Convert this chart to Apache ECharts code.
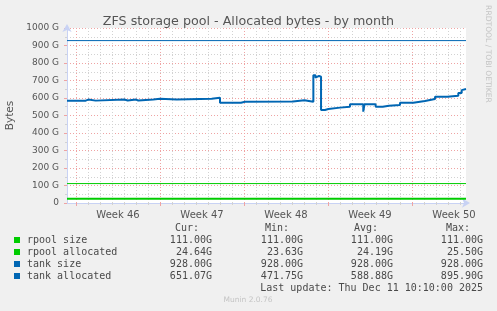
<!DOCTYPE html>
<html><head><meta charset="utf-8">
<script src="https://cdn.jsdelivr.net/npm/echarts@6/dist/echarts.min.js"></script>
<style>html,body{margin:0;padding:0;background:#f0f0f0}#c{width:497px;height:311px}</style>
</head><body><div id="c"></div>
<script>
// x values are days relative to the Monday starting "Week 46"
const weekStarts = [0, 7, 14, 21, 28];
const weekLabelPos = [3.5, 10.5, 17.5, 24.5, 31.5];
const weekLabels = ['Week 46', 'Week 47', 'Week 48', 'Week 49', 'Week 50'];
const yTicks = [0, 100, 200, 300, 400, 500, 600, 700, 800, 900, 1000];

const rpoolSizeDays = [-0.75, 32.5];
const rpoolSizeVals = [111, 111];
const rpoolAllocDays = [-0.75, 5, 12, 20, 27, 32.5];
const rpoolAllocVals = [23.8, 24.0, 24.2, 24.4, 24.6, 24.64];
const tankSizeDays = [-0.75, 32.5];
const tankSizeVals = [928, 928];
const tankAllocDays = [-0.75, 0.81, 1.03, 1.64, 4.03, 4.31, 5.0, 5.19, 6.44, 7.0, 8.39, 11.31, 12.0, 13.75, 14.08, 18.08, 19.03, 19.78, 19.96, 20.08, 20.25, 20.42, 20.75, 21.03, 22.0, 22.83, 23.94, 24.04, 24.97, 25.56, 26.08, 27.0, 28.11, 29.08, 29.92, 30.94, 31.86, 32.14, 32.3, 32.5];
const tankAllocVals = [585, 591, 585, 591, 586, 591, 586, 591, 596, 591, 596, 602, 573, 578, 580, 587, 578, 730, 716, 726, 722, 531, 537, 545, 550, 564, 522, 564, 550, 556, 560, 573, 583, 594, 607, 613, 628, 645, 651, 651];

const legendNames = ['rpool size', 'rpool allocated', 'tank size', 'tank allocated'];
const legendColors = ['#00cc00', '#00cc00', '#0066b3', '#0066b3'];
const curVals = ['111.00G', '24.64G', '928.00G', '651.07G'];
const minVals = ['111.00G', '23.63G', '928.00G', '471.75G'];
const avgVals = ['111.00G', '24.19G', '928.00G', '588.88G'];
const maxVals = ['111.00G', '25.50G', '928.00G', '895.90G'];
const lastUpdate = 'Last update: Thu Dec 11 10:10:00 2025';

function pairs(d, v) { return d.map((x, i) => [x, v[i]]); }
const dailyDays = [];
for (let d = 1; d <= 32; d++) if (d % 7 !== 0) dailyDays.push(d);

const mono = '"DejaVu Sans Mono", monospace';
const txtColor = '#4a4a4a';
const graphics = [];
const rowY = [240, 252, 264, 276];
legendNames.forEach((n, i) => {
  graphics.push({type: 'rect', shape: {x: 14, y: rowY[i] - 3, width: 6, height: 6}, style: {fill: legendColors[i]}});
  graphics.push({type: 'text', x: 27, y: rowY[i], style: {text: n, font: '10px ' + mono, fill: txtColor, textVerticalAlign: 'middle'}});
  [[curVals, 212], [minVals, 303], [avgVals, 393], [maxVals, 483]].forEach(([arr, xr]) => {
    graphics.push({type: 'text', x: xr, y: rowY[i], style: {text: arr[i], font: '10px ' + mono, fill: txtColor, textAlign: 'right', textVerticalAlign: 'middle'}});
  });
});
[['Cur:', 199], ['Min:', 289], ['Avg:', 378], ['Max:', 470]].forEach(([t, xr]) => {
  graphics.push({type: 'text', x: xr, y: 228, style: {text: t, font: '10px ' + mono, fill: txtColor, textAlign: 'right', textVerticalAlign: 'middle'}});
});
graphics.push({type: 'text', x: 483, y: 288, style: {text: lastUpdate, font: '10px ' + mono, fill: txtColor, textAlign: 'right', textVerticalAlign: 'middle'}});
graphics.push({type: 'text', x: 248, y: 300, style: {text: 'Munin 2.0.76', font: '7.5px "DejaVu Sans"', fill: '#c4c4c4', textAlign: 'center', textVerticalAlign: 'middle'}});
graphics.push({type: 'text', x: 488, y: 54, rotation: -Math.PI / 2, style: {text: 'RRDTOOL / TOBI OETIKER', font: '7.6px "DejaVu Sans"', fill: '#c4c4c4', textAlign: 'center', textVerticalAlign: 'middle'}});

const chart = echarts.init(document.getElementById('c'), null, {renderer: 'canvas'});
const axisCol = '#c8d2f4';
const majorCol = '#efa3a3';
const minorCol = '#d2d2d2';
chart.setOption({
  animation: false,
  backgroundColor: '#f0f0f0',
  textStyle: {fontFamily: '"DejaVu Sans", sans-serif'},
  title: {text: 'ZFS storage pool - Allocated bytes - by month', left: 'center', top: 10,
    textStyle: {fontSize: 12.7, fontWeight: 'normal', color: '#555', fontFamily: '"DejaVu Sans", sans-serif'}},
  grid: {left: 67, right: 31, top: 28, height: 175, show: true, backgroundColor: '#ffffff', borderWidth: 0, containLabel: false, outerBoundsMode: 'none'},
  xAxis: [{
    type: 'value', min: -0.75, max: 32.5,
    axisLine: {show: true, onZero: false, lineStyle: {color: axisCol, width: 1}, symbol: ['none', 'arrow'], symbolSize: [7, 8], symbolOffset: [0, 4]},
    axisTick: {show: true, length: 3, customValues: weekStarts, lineStyle: {color: majorCol}},
    axisLabel: {customValues: weekLabelPos, fontSize: 10, color: '#555', margin: 7,
      formatter: v => weekLabels[weekLabelPos.indexOf(v)] || ''},
    splitLine: {show: true, lineStyle: {color: majorCol, type: [1, 2], width: 1}}
  }, {
    type: 'value', min: -0.75, max: 32.5, position: 'bottom',
    axisLine: {show: false, onZero: false},
    axisTick: {show: true, length: 2, customValues: dailyDays, lineStyle: {color: minorCol}},
    axisLabel: {show: false},
    splitLine: {show: true, lineStyle: {color: minorCol, type: [1, 2], width: 1}}
  }],
  yAxis: {
    type: 'value', min: 0, max: 1000, interval: 100,
    name: 'Bytes', nameLocation: 'middle', nameGap: 51, nameTextStyle: {fontSize: 10.5, color: '#555'},
    axisLine: {show: true, onZero: false, lineStyle: {color: axisCol, width: 1}, symbol: ['none', 'arrow'], symbolSize: [7, 8], symbolOffset: [0, 4]},
    axisTick: {show: true, length: 3, lineStyle: {color: majorCol}},
    minorTick: {show: true, splitNumber: 2, length: 2, lineStyle: {color: minorCol}},
    axisLabel: {fontSize: 9, color: '#555', margin: 8, customValues: yTicks, formatter: v => v === 0 ? '0' : v + ' G'},
    splitLine: {show: true, lineStyle: {color: majorCol, type: [1, 2], width: 1}},
    minorSplitLine: {show: true, lineStyle: {color: minorCol, type: [1, 2], width: 1}}
  },
  series: [
    {name: legendNames[0], type: 'line', data: pairs(rpoolSizeDays, rpoolSizeVals), showSymbol: false, lineStyle: {color: legendColors[0], width: 1}, z: 3},
    {name: legendNames[1], type: 'line', step: 'end', data: pairs(rpoolAllocDays, rpoolAllocVals), showSymbol: false, lineStyle: {color: legendColors[1], width: 2}, z: 3},
    {name: legendNames[2], type: 'line', data: pairs(tankSizeDays, tankSizeVals), showSymbol: false, lineStyle: {color: legendColors[2], width: 1}, z: 3},
    {name: legendNames[3], type: 'line', step: 'end', data: pairs(tankAllocDays, tankAllocVals), showSymbol: false, lineStyle: {color: legendColors[3], width: 2}, z: 3}
  ],
  graphic: graphics
});
</script></body></html>
